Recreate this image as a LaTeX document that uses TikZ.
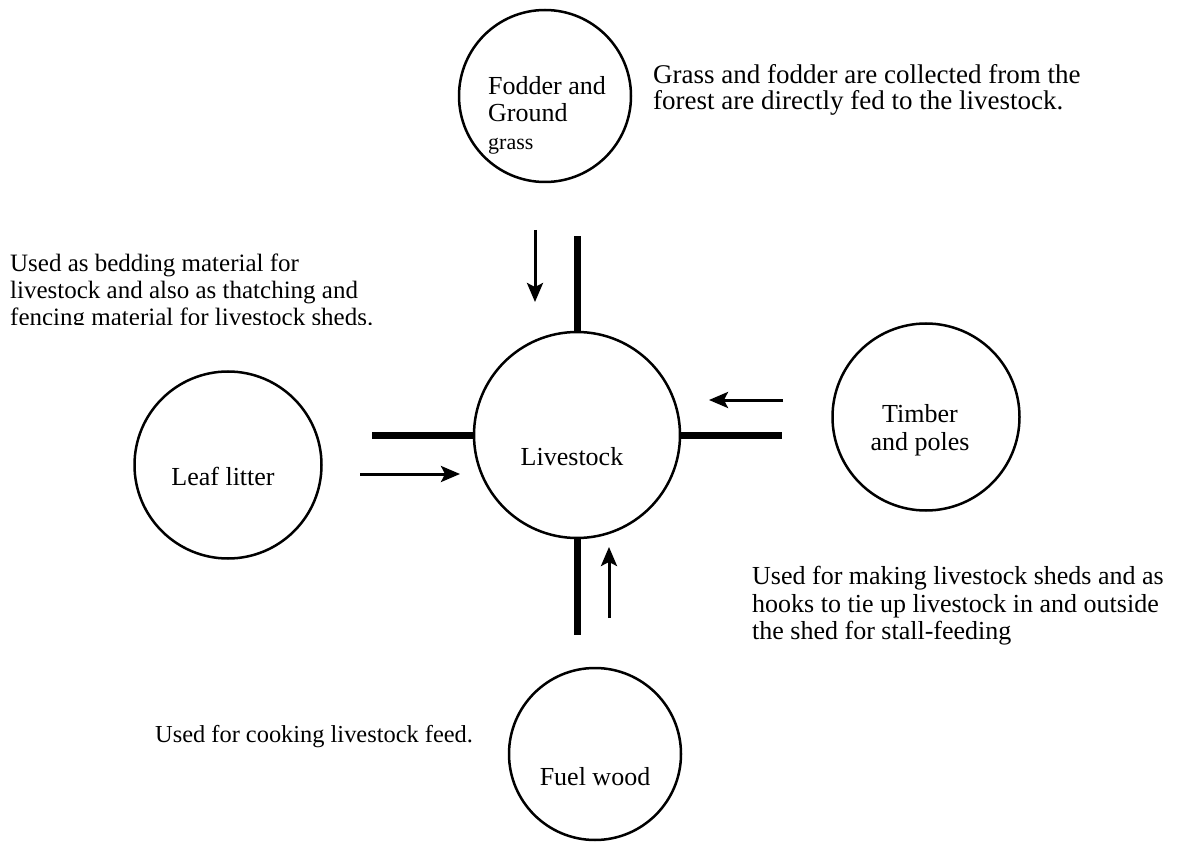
\documentclass[tikz,border=0pt]{standalone}
\usepackage{fontspec}
\setmainfont{Liberation Serif}
\usetikzlibrary{arrows.meta}
\begin{document}
\begin{tikzpicture}[x=1pt,y=-1pt,
  bubble/.style={draw, circle, line width=2.5pt, inner sep=0pt},
  thickbar/.style={line width=7pt},
  flow/.style={line width=3pt, -{Stealth[length=19pt,width=16pt,inset=4pt]}},
  lbl/.style={font=\fontsize{26}{27.5}\selectfont, align=center, inner sep=0pt},
  desc/.style={font=\fontsize{25}{27}\selectfont, align=left, anchor=north west, inner sep=0pt}]
\useasboundingbox (0,0) rectangle (1179,845);

% circles
\node[bubble, minimum size=172pt] (fod) at (545,96) {};
\node[bubble, minimum size=206pt] (live) at (577,435) {};
\node[bubble, minimum size=187pt] (leaf) at (228,465) {};
\node[bubble, minimum size=187pt] (tim) at (926,417) {};
\node[bubble, minimum size=172pt] (fuel) at (595,754) {};

% circle labels
\node[lbl, align=left, anchor=north west] (fodt) at (488,76) {Fodder and\\Ground\\{\fontsize{22}{27.5}\selectfont grass}};
\node[lbl] (livet) at (572,457) {Livestock};
\node[lbl] (leaft) at (223,476) {Leaf litter};
\node[lbl] (timt) at (920,430) {Timber\\and poles};
\node[lbl] (fuelt) at (595,777) {Fuel wood};

% descriptions
\begin{scope}
  \clip (0,0) rectangle (420,324.5);
  \node[desc] (dleaf) at (10,254) {Used as bedding material for\\livestock and also as thatching and\\fencing material for livestock sheds.};
\end{scope}
\node[desc, font=\fontsize{27}{26.5}\selectfont] (dfod) at (653,64) {Grass and fodder are collected from the\\forest are directly fed to the livestock.};
\node[desc, font=\fontsize{26}{27.5}\selectfont] (dtim) at (752,566) {Used for making livestock sheds and as\\hooks to tie up livestock in and outside\\the shed for stall-feeding};
\node[desc, font=\fontsize{24.4}{27}\selectfont] (dfuel) at (155,725) {Used for cooking livestock feed.};

% thick bars
\coordinate (tb) at (577,236);
\coordinate (lb) at (372,435);
\coordinate (rb) at (782,435);
\coordinate (bb) at (577,635);
\draw[thickbar] (live.north) -- (tb);
\draw[thickbar] (live.west) -- (lb);
\draw[thickbar] (live.east) -- (rb);
\draw[thickbar] (live.south) -- (bb);

% arrows
\coordinate (a1s) at (535,230); \coordinate (a1e) at (535,302);
\coordinate (a2s) at (360,474); \coordinate (a2e) at (460,474);
\coordinate (a3s) at (783,400); \coordinate (a3e) at (709,400);
\coordinate (a4s) at (609,618); \coordinate (a4e) at (609,547);
\draw[flow] (a1s) -- (a1e);
\draw[flow] (a2s) -- (a2e);
\draw[flow] (a3s) -- (a3e);
\draw[flow] (a4s) -- (a4e);
\end{tikzpicture}
\end{document}
